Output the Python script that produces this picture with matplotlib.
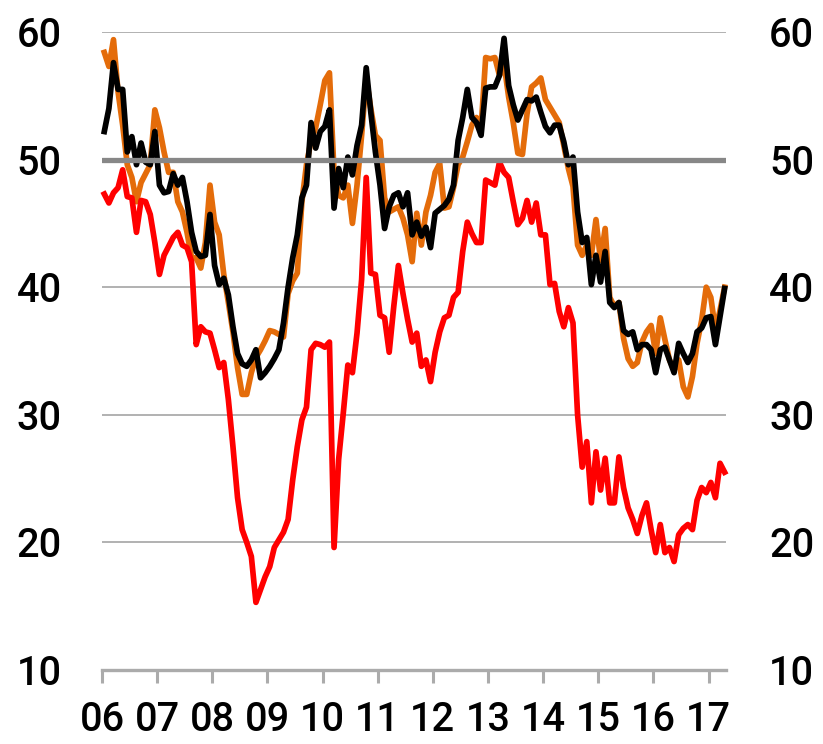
import numpy as np
import matplotlib
matplotlib.use("Agg")
import matplotlib.pyplot as plt

# monthly readings, Jan 2006 - Apr 2017
orange = [58.4, 57.3, 59.4, 55.3, 52.7, 49.6, 48.6, 46.7, 48.2, 48.9, 49.6, 53.9,
          52.5, 50.6, 49.0, 49.0, 46.7, 45.9, 44.3, 42.3, 42.3, 41.5, 43.5, 48.0,
          45.1, 44.1, 41.0, 38.8, 36.5, 33.7, 31.6, 31.6, 33.3, 34.5, 35.1, 35.8,
          36.6, 36.5, 36.3, 36.1, 39.5, 40.5, 41.1, 46.7, 49.6, 51.5, 52.5, 54.3,
          56.2, 56.8, 49.0, 47.2, 47.0, 48.0, 45.0, 48.0, 51.9, 56.4, 54.0, 51.9,
          51.5, 47.0, 45.9, 46.1, 46.3, 45.4, 44.1, 42.0, 45.8, 43.3, 45.9, 47.2,
          49.0, 49.7, 46.2, 46.3, 47.8, 49.6, 50.2, 51.4, 52.7, 53.3, 52.5, 58.0,
          57.9, 58.0, 56.6, 57.5, 54.9, 52.9, 50.5, 50.4, 53.6, 55.7, 56.0, 56.4,
          54.7, 54.1, 53.5, 52.9, 51.1, 49.3, 47.9, 43.3, 42.5, 43.3, 42.5, 45.3,
          42.1, 44.6, 39.2, 38.5, 38.8, 36.0, 34.4, 33.8, 34.1, 35.7, 36.5, 37.0,
          34.8, 37.6, 35.9, 34.3, 33.5, 34.3, 32.2, 31.4, 33.0, 35.6, 37.4, 40.0,
          39.2, 36.6, 38.2, 40.0]

black = [52.2, 54.0, 57.6, 55.5, 55.5, 50.6, 51.8, 49.6, 51.3, 49.8, 49.6, 52.2,
         48.0, 47.4, 47.5, 48.9, 48.0, 48.6, 46.7, 44.3, 42.8, 42.4, 42.5, 45.7,
         41.7, 40.2, 40.7, 39.4, 36.9, 34.8, 34.0, 33.8, 34.3, 35.1, 32.9, 33.3,
         33.8, 34.4, 35.1, 37.2, 40.0, 42.3, 44.1, 47.0, 48.0, 52.9, 50.9, 52.2,
         52.6, 53.9, 46.2, 49.3, 47.8, 50.2, 48.8, 51.1, 52.7, 57.2, 53.7, 50.6,
         48.0, 44.6, 46.3, 47.2, 47.4, 46.3, 47.4, 44.1, 45.1, 44.0, 44.7, 43.1,
         45.8, 46.1, 46.4, 46.9, 48.0, 51.5, 53.3, 55.5, 53.3, 52.9, 51.9, 55.6,
         55.7, 55.7, 56.6, 59.5, 55.8, 54.3, 53.1, 53.9, 54.7, 54.6, 54.9, 53.7,
         52.6, 52.1, 52.7, 52.7, 51.4, 49.6, 50.2, 45.9, 43.5, 43.9, 40.2, 42.5,
         40.4, 42.8, 38.8, 38.4, 38.8, 36.6, 36.3, 36.5, 35.1, 35.5, 35.5, 35.1,
         33.3, 35.1, 35.3, 34.3, 33.3, 35.6, 34.8, 34.1, 34.8, 36.5, 36.8, 37.6,
         37.7, 35.5, 37.7, 39.9]

red = [47.3, 46.6, 47.4, 47.8, 49.2, 47.1, 47.0, 44.3, 46.8, 46.7, 45.7, 43.5,
       41.0, 42.5, 43.2, 43.9, 44.3, 43.3, 43.1, 42.0, 35.5, 36.9, 36.5, 36.4,
       35.1, 33.7, 34.1, 31.2, 27.5, 23.5, 21.0, 20.0, 18.9, 15.3, 16.3, 17.3,
       18.1, 19.6, 20.2, 20.8, 21.8, 24.9, 27.5, 29.6, 30.6, 35.1, 35.6, 35.5,
       35.3, 35.7, 19.6, 26.5, 30.1, 33.9, 33.3, 36.4, 40.6, 48.6, 41.1, 41.0,
       37.8, 37.6, 34.9, 38.5, 41.7, 39.5, 37.5, 35.7, 36.4, 33.8, 34.3, 32.6,
       34.9, 36.5, 37.6, 37.8, 39.2, 39.6, 42.8, 45.1, 44.2, 43.5, 43.5, 48.4,
       48.2, 48.0, 49.8, 49.0, 48.6, 46.7, 44.9, 45.4, 46.8, 45.1, 46.6, 44.1,
       44.1, 40.2, 40.3, 38.1, 36.9, 38.4, 37.2, 30.0, 25.9, 27.9, 23.1, 27.1,
       24.1, 26.6, 23.1, 23.1, 26.7, 24.3, 22.7, 21.8, 20.7, 22.1, 23.1, 21.0,
       19.2, 21.4, 19.2, 19.6, 18.5, 20.6, 21.1, 21.4, 21.0, 23.3, 24.3, 23.9,
       24.7, 23.5, 26.2, 25.5]

years = list(range(2006, 2018))
year_labels = ["%02d" % (y % 100) for y in years]
y_ticks = [10, 20, 30, 40, 50, 60]

plt.rcParams["font.family"] = ["Roboto", "DejaVu Sans"]
plt.rcParams["font.weight"] = "medium"
FS = 28.5

n = len(black)
t = 2006 + (np.arange(n) + 0.5) / 12.0

fig = plt.figure(figsize=(8.23, 7.44), dpi=100)
ax = fig.add_axes([102 / 823, 74 / 744, 624 / 823, 638 / 744])
ax.set_xlim(2006, 2006 + 135.8 / 12)
ax.set_ylim(10, 60)

for g in [20, 30, 40, 60]:
    ax.axhline(g, color="#ababab", lw=1.3, zorder=1)

ax.plot(t, orange, color="#E46C0A", lw=4.1, zorder=3, clip_on=False)
ax.plot(t, red, color="#FF0000", lw=4.1, zorder=4, clip_on=False)
ax.plot(t, black, color="#000000", lw=4.1, zorder=5, clip_on=False)
ax.axhline(50, color="#878787", lw=3.8, zorder=6, solid_capstyle="round")

for s in ["top", "left", "right"]:
    ax.spines[s].set_visible(False)
ax.spines["bottom"].set_color("#ababab")
ax.spines["bottom"].set_linewidth(2.4)

ax.set_xticks(years)
ax.set_xticklabels(year_labels)
ax.tick_params(axis="x", direction="out", length=9, width=2.2, color="#ababab",
               pad=13, labelsize=FS)
ax.set_yticks(y_ticks)
ax.tick_params(axis="y", length=0, pad=29, labelsize=FS)

ax2 = ax.twinx()
ax2.set_ylim(10, 60)
ax2.set_yticks(y_ticks)
ax2.tick_params(axis="y", length=0, pad=31, labelsize=FS)
for s in ax2.spines.values():
    s.set_visible(False)

fig.savefig("out.png", dpi=100)
